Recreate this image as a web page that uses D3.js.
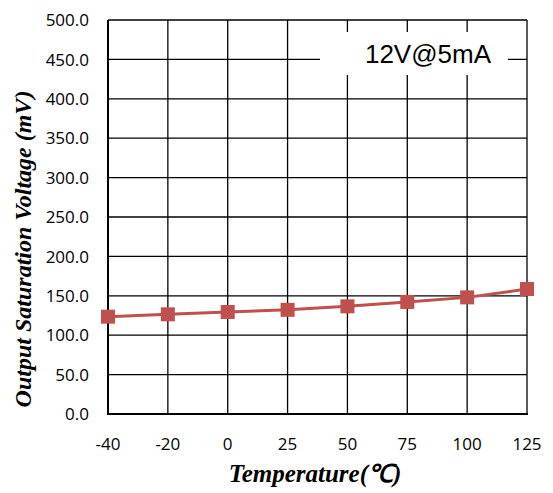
<!DOCTYPE html>
<html><head><meta charset="utf-8">
<script src="https://cdn.jsdelivr.net/npm/d3@7"></script>
<style>body{margin:0;background:#fff}</style>
</head><body>
<svg id="c" width="553" height="493"></svg>
<script>
const categories = ["-40","-20","0","25","50","75","100","125"];
const values = [123.5, 126.5, 129.4, 132.2, 136.6, 142.2, 148.0, 158.6];
const yTicks = [0,50,100,150,200,250,300,350,400,450,500];
const legendLabel = "12V@5mA";
const xTitle = "Temperature(℃)";
const yTitle = "Output Saturation Voltage (mV)";

const svg = d3.select("#c");
const L=108, R=527, T=20, B=414;
const x = d3.scalePoint().domain(categories).range([L,R]).padding(0);
const y = d3.scaleLinear().domain([0,500]).range([B,T]);

const g = svg.append("g");
g.selectAll(".hg").data(yTicks).join("line")
  .attr("x1",L).attr("x2",R).attr("y1",d=>y(d)).attr("y2",d=>y(d))
  .attr("stroke","#000").attr("stroke-width",1.3);
g.selectAll(".vg").data(categories).join("line")
  .attr("x1",d=>x(d)).attr("x2",d=>x(d)).attr("y1",T).attr("y2",B)
  .attr("stroke","#000").attr("stroke-width",1.3);
g.append("line").attr("x1",L).attr("x2",L).attr("y1",T).attr("y2",B).attr("stroke","#000").attr("stroke-width",2);
g.append("line").attr("x1",L-1).attr("x2",R+1).attr("y1",B).attr("y2",B).attr("stroke","#000").attr("stroke-width",2.2);

svg.append("rect").attr("x",320).attr("y",32).attr("width",188).attr("height",43).attr("fill","#fff");
svg.append("text").attr("x",428).attr("y",63).attr("text-anchor","middle")
  .attr("font-family","Liberation Sans, Arial, sans-serif").attr("font-size",26).attr("fill","#000")
  .text(legendLabel);

svg.selectAll(".yl").data(yTicks).join("text")
  .attr("x",89).attr("y",d=>y(d)).attr("dy","0.36em").attr("text-anchor","end")
  .attr("font-family","Open Sans, sans-serif").attr("font-size",17).attr("fill","#000")
  .text(d=>d.toFixed(1));
svg.selectAll(".xl").data(categories).join("text")
  .attr("x",d=>x(d)).attr("y",450).attr("text-anchor","middle")
  .attr("font-family","Open Sans, sans-serif").attr("font-size",17).attr("fill","#000")
  .text(d=>d);

const line = d3.line().x((d,i)=>x(categories[i])).y(d=>y(d));
svg.append("path").datum(values).attr("d",line).attr("fill","none")
  .attr("stroke","#C0504D").attr("stroke-width",3);
const ms=14;
svg.selectAll(".m").data(values).join("rect")
  .attr("x",(d,i)=>x(categories[i])-ms/2).attr("y",d=>y(d)-ms/2)
  .attr("width",ms).attr("height",ms).attr("fill","#C0504D");

svg.append("text").attr("x",315).attr("y",482).attr("text-anchor","middle")
  .attr("font-family","Liberation Serif, Times New Roman, serif").attr("font-weight","bold").attr("font-style","italic")
  .attr("font-size",25).attr("fill","#000").text(xTitle);
svg.append("text").attr("transform","translate(31,249) rotate(-90)").attr("text-anchor","middle")
  .attr("font-family","Liberation Serif, Times New Roman, serif").attr("font-weight","bold").attr("font-style","italic")
  .attr("font-size",24).attr("fill","#000").text(yTitle);
</script>
</body></html>
